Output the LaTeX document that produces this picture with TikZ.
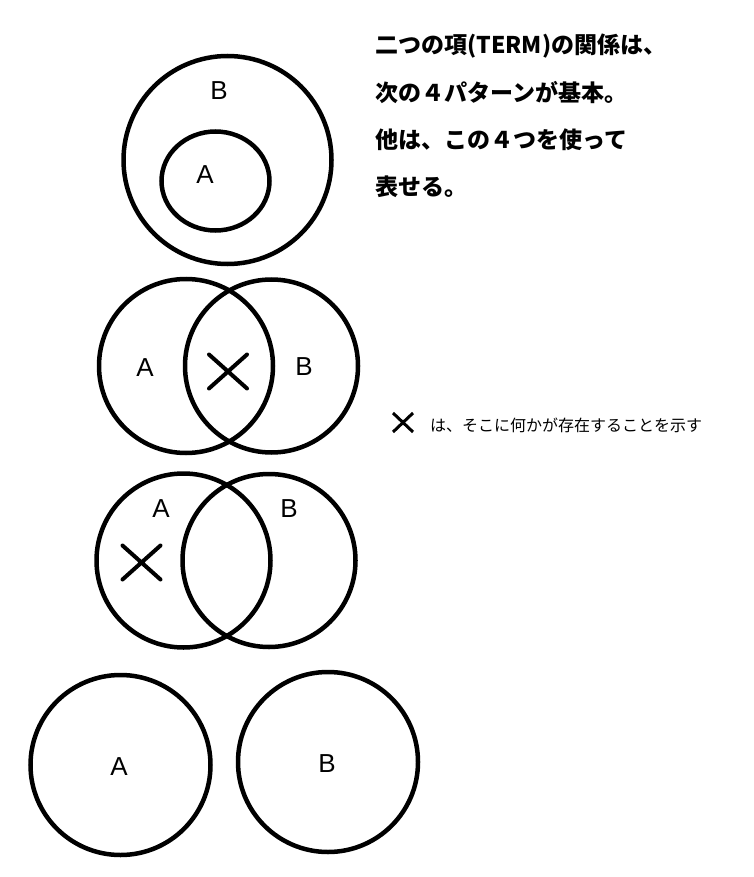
\documentclass[tikz,border=0pt]{standalone}
\usepackage{fontspec}
\setmainfont{Liberation Sans}
\newfontfamily\jp{Noto Sans CJK JP}
\usetikzlibrary{shapes.geometric,shapes.misc}
\begin{document}
\begin{tikzpicture}[x=1pt,y=-1pt,
  ring/.style={draw=black,line width=4.5pt,circle,inner sep=0pt,minimum size=#1},
  lbl/.style={font=\fontsize{26}{26}\selectfont,inner sep=0pt},
  xmark/.style={cross out,draw=black,line width=4pt,line cap=round,minimum width=34pt,minimum height=30pt,inner sep=0pt},
  xsmall/.style={cross out,draw=black,line width=3pt,minimum width=17pt,minimum height=16pt,inner sep=0pt},
  jpbig/.style={font=\jp\bfseries\fontsize{23}{23}\selectfont,inner sep=0pt,anchor=west},
  jpsmall/.style={font=\jp\fontsize{16}{16}\selectfont,inner sep=0pt,anchor=west}]
\useasboundingbox (0,0) rectangle (754,877);
\fill[white] (0,0) rectangle (754,877);
% row 1: A inside B
\node[ring=208pt] (B1) at (227.5,160) {};
\node[ellipse,draw=black,line width=4.5pt,minimum width=108pt,minimum height=99pt,inner sep=0pt] (A1) at (215.5,181) {};
\node[lbl] (lB1) at (219,91) {B};
\node[lbl] (lA1) at (205,175) {A};
% row 2: overlap with X in the middle
\node[ring=174pt] (A2) at (186,366) {};
\node[ring=173pt] (B2) at (271.5,366) {};
\node[lbl] (lA2) at (145,368) {A};
\node[lbl] (lB2) at (304,367) {B};
\node[xmark] (X2) at (228,371.5) {};
% row 3: overlap with X in A only
\node[ring=174pt] (A3) at (183.5,560.5) {};
\node[ring=173pt] (B3) at (269,560.5) {};
\node[lbl] (lA3) at (161,509) {A};
\node[lbl] (lB3) at (289,509) {B};
\node[xmark] (X3) at (141.5,562.5) {};
% row 4: disjoint
\node[ring=180pt] (A4) at (120.5,765) {};
\node[ring=180pt] (B4) at (328,762) {};
\node[lbl] (lA4) at (119,767) {A};
\node[lbl] (lB4) at (327,764) {B};
% texts
\node[jpbig] (t1) at (375,46) {二つの項(TERM)の関係は、};
\node[jpbig] (t2) at (375,93) {次の４パターンが基本。};
\node[jpbig] (t3) at (375,140) {他は、この４つを使って};
\node[jpbig] (t4) at (375,187) {表せる。};
\node[xsmall] (X0) at (403,422.5) {};
\node[jpsmall] (note) at (430,425) {は、そこに何かが存在することを示す};
\end{tikzpicture}
\end{document}
